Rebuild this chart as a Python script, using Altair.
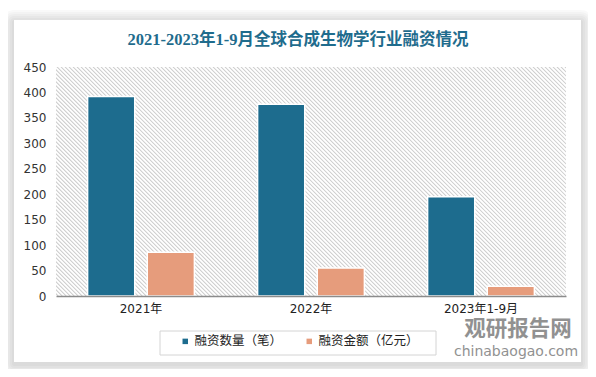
import altair as alt
import pandas as pd

# ---- data ----
years = ["2021年", "2022年", "2023年1-9月"]
deal_counts = [392, 377, 195]
deal_amounts = [86, 55, 19]
series = ["融资数量（笔）", "融资金额（亿元）"]
y_ticks = [0, 50, 100, 150, 200, 250, 300, 350, 400, 450]
title_text = "2021-2023年1-9月全球合成生物学行业融资情况"
wm_cn = "观研报告网"
wm_en = "chinabaogao.com"

BLUE = "#1d6c8e"
ORANGE = "#e69c7c"
TITLE_C = "#1f6c8d"
HATCH = "#cccccc"

rows = []
for i, yr in enumerate(years):
    rows.append({"year": yr, "series": series[0], "value": deal_counts[i]})
    rows.append({"year": yr, "series": series[1], "value": deal_amounts[i]})
df = pd.DataFrame(rows)
one = pd.DataFrame({"k": [0]})

W, H = 510, 229

layers = []

# card shadow + card
cx1, cx2, cy1, cy2 = -42, 525, -47, 295
for d in [12, 10, 8, 6, 4, 2]:
    layers.append(
        alt.Chart(one).mark_rect(color="#000000", opacity=0.022, cornerRadius=d).encode(
            x=alt.value(cx1 - d), x2=alt.value(cx2 + d),
            y=alt.value(cy1 - d + 2), y2=alt.value(cy2 + d + 2))
    )
layers.append(
    alt.Chart(one).mark_rect(color="#ffffff").encode(
        x=alt.value(cx1), x2=alt.value(cx2), y=alt.value(cy1), y2=alt.value(cy2))
)

# hatched plot background: one very thick dashed rule, clipped to the plot
layers.append(
    alt.Chart(one).mark_rule(color=HATCH, strokeWidth=560, strokeDash=[1.0, 1.828],
                             strokeCap="butt", clip=True).encode(
        x=alt.value(55), x2=alt.value(455), y=alt.value(314.5), y2=alt.value(-85.5))
)

# legend box
layers.append(
    alt.Chart(one).mark_rect(fill="#ffffff", stroke="#d4d4d4", strokeWidth=1).encode(
        x=alt.value(104), x2=alt.value(380), y=alt.value(264), y2=alt.value(288))
)

x_enc = alt.X("year:N", sort=years,
              scale=alt.Scale(paddingInner=0, paddingOuter=0),
              axis=alt.Axis(title=None, labelAngle=0, domain=True, domainColor="#8c8c8c",
                            domainWidth=1.5, ticks=False, labelPadding=7,
                            labelFont="DejaVu Sans, Noto Sans CJK SC", labelFontSize=12,
                            labelColor="#222222", grid=False, zindex=1))
xo_enc = alt.XOffset("series:N", sort=series,
                     scale=alt.Scale(paddingInner=0.21, paddingOuter=0.53))
y_enc = alt.Y("value:Q", scale=alt.Scale(domain=[0, 450], nice=False),
              axis=alt.Axis(title=None, values=y_ticks, domain=False, ticks=False, grid=False,
                            labelPadding=10, labelFont="DejaVu Sans", labelFontSize=12,
                            labelColor="#333333", zindex=1))

# bar shadows
for sw, so in [(7, 0.04), (4, 0.06)]:
    layers.append(
        alt.Chart(df).mark_bar(color="#000000", opacity=0.0, stroke="#000000",
                               strokeWidth=sw, strokeOpacity=so).encode(
            x=x_enc, xOffset=xo_enc, y=y_enc)
    )

# bars
layers.append(
    alt.Chart(df).mark_bar(stroke="#ffffff", strokeWidth=1.5).encode(
        x=x_enc, xOffset=xo_enc, y=y_enc,
        color=alt.Color("series:N", sort=series,
                        scale=alt.Scale(domain=series, range=[BLUE, ORANGE]),
                        legend=alt.Legend(title=None, orient="none", legendX=123, legendY=268,
                                          direction="horizontal", symbolType="square",
                                          symbolSize=30, symbolStrokeWidth=0,
                                          labelFont="Noto Sans CJK SC", labelFontSize=12.5,
                                          labelColor="#222222", labelOffset=3,
                                          columnPadding=20, padding=0, zindex=2))
    )
)

# watermark
layers.append(
    alt.Chart(one).mark_text(text=wm_cn, font="Noto Sans CJK SC", fontSize=21.5,
                             fontWeight="bold", color="#8c8c8c", opacity=0.95,
                             align="center", baseline="middle").encode(
        x=alt.value(462), y=alt.value(263))
)
layers.append(
    alt.Chart(one).mark_text(text=wm_en, font="DejaVu Sans", fontSize=14,
                             color="#8c8c8c", opacity=0.95,
                             align="center", baseline="middle").encode(
        x=alt.value(460), y=alt.value(285))
)

# title
layers.append(
    alt.Chart(one).mark_text(text=title_text, font="Liberation Serif, Noto Sans CJK SC",
                             fontSize=16.5, fontWeight="bold", color=TITLE_C,
                             align="center", baseline="middle").encode(
        x=alt.value(242), y=alt.value(-27))
)

chart = alt.layer(*layers).properties(
    width=W, height=H,
    autosize=alt.AutoSizeParams(type="none"),
    padding={"left": 48, "top": 59, "right": 22, "bottom": 73},
    background="#ffffff",
).configure_view(stroke=None)

chart.save("out.html", embed_options={"renderer": "svg", "actions": False})
